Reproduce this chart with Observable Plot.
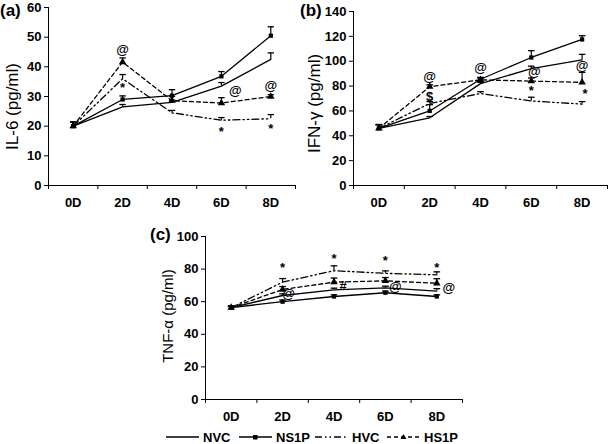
<!DOCTYPE html>
<html>
<head>
<meta charset="utf-8">
<script src="https://cdn.jsdelivr.net/npm/d3@7"></script>
<script src="https://cdn.jsdelivr.net/npm/@observablehq/plot@0.6"></script>
<style>
  html, body { margin: 0; padding: 0; background: #fff; }
  #wrap { position: relative; width: 609px; height: 444px; overflow: hidden; font-family: "Liberation Sans", Arial, sans-serif; }
</style>
</head>
<body>
<div id="wrap"></div>
<script>
// ---------- data ----------
const days = ["0D", "2D", "4D", "6D", "8D"];
const seriesNames = ["NVC", "NS1P", "HVC", "HS1P"];

// (a) IL-6 (pg/ml)
const il6_NVC   = [20, 26.5, 28, 33.5, 42.5];
const il6_NVC_sd  = [1.5, 0.8, 0.8, 1.2, 2.2];
const il6_NS1P  = [20, 29, 30.3, 36.8, 50.5];
const il6_NS1P_sd = [1.5, 1.2, 2.0, 1.6, 3.0];
const il6_HVC   = [20, 36, 24.5, 22, 22.5];
const il6_HVC_sd  = [1.5, 1.4, 0.8, 0.9, 1.4];
const il6_HS1P  = [20, 41.6, 28.6, 27.8, 30];
const il6_HS1P_sd = [1.5, 1.4, 1.5, 1.8, 0.6];
const il6_notes = [
  {day: "2D", y: 45.8, label: "@", dx: 0},
  {day: "2D", y: 33, label: "*", dx: 0},
  {day: "6D", y: 32, label: "@", dx: 14},
  {day: "8D", y: 33.7, label: "@", dx: 0},
  {day: "6D", y: 18, label: "*", dx: 0},
  {day: "8D", y: 19, label: "*", dx: 0}
];

// (b) IFN-γ (pg/ml)
const ifn_NVC   = [46, 54.5, 82, 94, 101];
const ifn_NVC_sd  = [3, 1, 1, 2, 4.5];
const ifn_NS1P  = [46, 60, 85.5, 103, 117.5];
const ifn_NS1P_sd = [3, 5, 1.5, 5.5, 3];
const ifn_HVC   = [46, 66, 74, 68, 65.5];
const ifn_HVC_sd  = [3, 1.5, 1.5, 3, 2];
const ifn_HS1P  = [46, 79.5, 85, 84, 83];
const ifn_HS1P_sd = [3, 1.5, 1.5, 2.5, 8];
const ifn_notes = [
  {day: "2D", y: 87.7, label: "@", dx: 0},
  {day: "2D", y: 71.6, label: "$", dx: 0},
  {day: "4D", y: 95, label: "@", dx: 0},
  {day: "6D", y: 91.7, label: "@", dx: 3},
  {day: "6D", y: 76.5, label: "*", dx: 0},
  {day: "8D", y: 96.5, label: "@", dx: 0},
  {day: "8D", y: 74, label: "*", dx: 3}
];

// (c) TNF-α (pg/ml)
const tnf_NVC   = [56.4, 63.8, 67.3, 68.5, 66.5];
const tnf_NVC_sd  = [0.8, 1, 1, 1, 1.5];
const tnf_NS1P  = [56.4, 60, 63.2, 65.5, 63.2];
const tnf_NS1P_sd = [0.8, 1, 1, 1, 1];
const tnf_HVC   = [56.4, 72, 79, 77.4, 76.5];
const tnf_HVC_sd  = [0.8, 2.2, 3, 1.5, 1.8];
const tnf_HS1P  = [56.4, 67.5, 72, 72.8, 71.3];
const tnf_HS1P_sd = [0.8, 1.8, 2.5, 2, 2.8];
const tnf_notes = [
  {day: "2D", y: 81, label: "*", dx: 0},
  {day: "4D", y: 86, label: "*", dx: 0},
  {day: "6D", y: 85, label: "*", dx: 0},
  {day: "8D", y: 81, label: "*", dx: 0},
  {day: "2D", y: 65, label: "@", dx: 6},
  {day: "4D", y: 70, label: "#", dx: 9},
  {day: "6D", y: 69.3, label: "@", dx: 10},
  {day: "8D", y: 68.7, label: "@", dx: 12}
];

// ---------- styles per series ----------
const styleOf = {
  NVC:  {dash: null, symbol: null},
  NS1P: {dash: null, symbol: "square"},
  HVC:  {dash: "7,3,1.5,3,1.5,3", symbol: null},
  HS1P: {dash: "4,3", symbol: "triangle"}
};
const FONT = "Liberation Sans, Arial, sans-serif";

function rows(vals, sds, name) {
  return vals.map((v, i) => ({series: name, i, v, top: v + sds[i]}));
}

function panel(cfg) {
  const marks = [];
  const edges = d3.range(-0.5, 5, 1);
  marks.push(Plot.axisY({ticks: cfg.yTicks, tickSize: 4, tickPadding: 3, label: null, fontSize: 13, fontWeight: "bold"}));
  marks.push(Plot.axisX(days.map((d, i) => i), {tickSize: 0, tickPadding: 12, tickFormat: i => days[i], label: null, fontSize: 13, fontWeight: "bold"}));
  marks.push(Plot.axisX(edges, {tickSize: 4, tickFormat: () => "", label: null}));
  marks.push(Plot.ruleX([-0.5], {strokeWidth: 1}));
  marks.push(Plot.ruleY([0], {strokeWidth: 1}));
  for (const s of cfg.series) {
    const d = rows(s.v, s.sd, s.name);
    const st = styleOf[s.name];
    marks.push(Plot.line(d, {x: "i", y: "v", stroke: "black", strokeWidth: 1.3, strokeDasharray: st.dash}));
    marks.push(Plot.ruleX(d, {x: "i", y1: "v", y2: "top", stroke: "black", strokeWidth: 1.2}));
    marks.push(Plot.link(d, {x1: r => r.i - 0.065, x2: r => r.i + 0.065, y1: "top", y2: "top", stroke: "black", strokeWidth: 1.3}));
  }
  for (const s of cfg.series) {
    const st = styleOf[s.name];
    if (st.symbol) {
      const d = rows(s.v, s.sd, s.name);
      marks.push(Plot.dot(d, {x: "i", y: "v", symbol: st.symbol, r: st.symbol === "square" ? 2.4 : 2.8, fill: "black", stroke: "none"}));
    }
  }
  for (const [dx, arr] of d3.groups(cfg.notes, n => n.dx)) {
    marks.push(Plot.text(arr, {x: n => days.indexOf(n.day), y: "y", text: "label", dx, fontSize: 13, fontWeight: "bold", fill: "black"}));
  }
  marks.push(Plot.text([cfg.title], {frameAnchor: "left", textAnchor: "middle", rotate: -90, dx: cfg.titleDx, dy: cfg.titleDy, fontSize: cfg.titleSize, fill: "black"}));
  return Plot.plot({
    width: cfg.width, height: cfg.height,
    marginLeft: cfg.ml, marginRight: cfg.mr, marginTop: cfg.mt, marginBottom: cfg.mb,
    x: {domain: [-0.5, 4.5], axis: null},
    y: {domain: [0, cfg.yMax], axis: null},
    style: {fontFamily: FONT, fontSize: "13px", color: "black", background: "transparent", overflow: "visible"},
    marks
  });
}

const wrap = document.getElementById("wrap");
function place(node, left, top) {
  node.style.position = "absolute";
  node.style.left = left + "px";
  node.style.top = top + "px";
  wrap.appendChild(node);
}
function cfgFor(title, yMax, yTicks, arrs, notes, geom) {
  return Object.assign({
    title, yMax, yTicks, notes,
    series: seriesNames.map((name, k) => ({name, v: arrs[k][0], sd: arrs[k][1]}))
  }, geom);
}

const cfgA = cfgFor("IL-6 (pg/ml)", 60, d3.range(0, 61, 10),
  [[il6_NVC, il6_NVC_sd], [il6_NS1P, il6_NS1P_sd], [il6_HVC, il6_HVC_sd], [il6_HS1P, il6_HS1P_sd]],
  il6_notes, {width: 300, height: 215, ml: 48, mr: 5, mt: 7, mb: 30, titleDx: -36, titleDy: 10, titleSize: 17});
const cfgB = cfgFor("IFN-γ (pg/ml)", 140, d3.range(0, 141, 20),
  [[ifn_NVC, ifn_NVC_sd], [ifn_NS1P, ifn_NS1P_sd], [ifn_HVC, ifn_HVC_sd], [ifn_HS1P, ifn_HS1P_sd]],
  ifn_notes, {width: 309, height: 215, ml: 53, mr: 2, mt: 11, mb: 30, titleDx: -39, titleDy: 5, titleSize: 17});
const cfgC = cfgFor("TNF-α (pg/ml)", 100, d3.range(0, 101, 20),
  [[tnf_NVC, tnf_NVC_sd], [tnf_NS1P, tnf_NS1P_sd], [tnf_HVC, tnf_HVC_sd], [tnf_HS1P, tnf_HS1P_sd]],
  tnf_notes, {width: 320, height: 199, ml: 55, mr: 8, mt: 11, mb: 25, titleDx: -37, titleDy: -2, titleSize: 15});

place(panel(cfgA), 0, 0);
place(panel(cfgB), 300, 0);
place(panel(cfgC), 150, 225);

// panel letters
function label(txt, left, top) {
  const d = document.createElement("div");
  d.textContent = txt;
  d.style.cssText = `position:absolute;left:${left}px;top:${top}px;font:bold 17px ${FONT};color:#000;`;
  wrap.appendChild(d);
}
label("(a)", 0, 1);
label("(b)", 300, 1);
label("(c)", 150, 225);

// legend
const legendItems = [
  {name: "NVC", x: 166},
  {name: "NS1P", x: 239},
  {name: "HVC", x: 315},
  {name: "HS1P", x: 387}
];
const NS = "http://www.w3.org/2000/svg";
const lg = document.createElementNS(NS, "svg");
lg.setAttribute("width", 609); lg.setAttribute("height", 24);
lg.style.cssText = "position:absolute;left:0;top:425px;";
for (const it of legendItems) {
  const st = styleOf[it.name];
  const ln = document.createElementNS(NS, "line");
  ln.setAttribute("x1", it.x); ln.setAttribute("x2", it.x + 33);
  ln.setAttribute("y1", 12); ln.setAttribute("y2", 12);
  ln.setAttribute("stroke", "black"); ln.setAttribute("stroke-width", 1.3);
  if (st.dash) ln.setAttribute("stroke-dasharray", st.dash);
  lg.appendChild(ln);
  if (st.symbol === "square") {
    const r = document.createElementNS(NS, "rect");
    r.setAttribute("x", it.x + 14); r.setAttribute("y", 10); r.setAttribute("width", 4.5); r.setAttribute("height", 4.5);
    lg.appendChild(r);
  } else if (st.symbol === "triangle") {
    const p = document.createElementNS(NS, "path");
    const cx = it.x + 16.5;
    p.setAttribute("d", `M${cx},9 L${cx + 3},14 L${cx - 3},14 Z`);
    lg.appendChild(p);
  }
  const t = document.createElementNS(NS, "text");
  t.setAttribute("x", it.x + 37); t.setAttribute("y", 16.5);
  t.setAttribute("font-family", FONT);
  t.setAttribute("font-size", 13); t.setAttribute("font-weight", "bold");
  t.textContent = it.name;
  lg.appendChild(t);
}
wrap.appendChild(lg);
</script>
</body>
</html>
